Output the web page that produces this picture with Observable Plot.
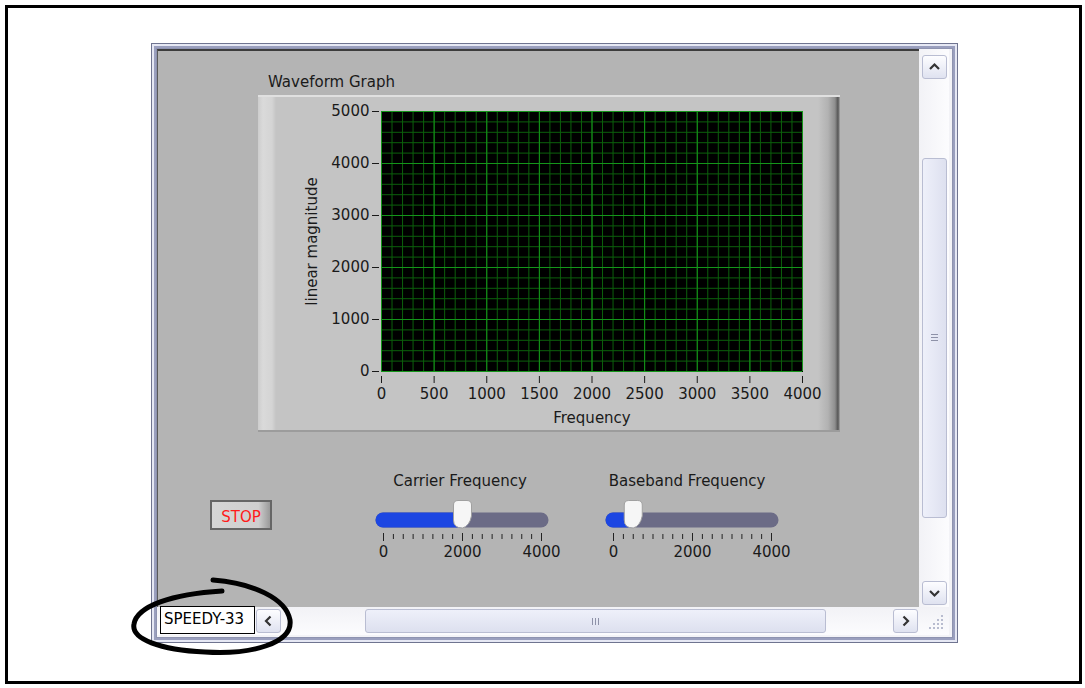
<!DOCTYPE html>
<html><head><meta charset="utf-8">
<script src="https://cdn.jsdelivr.net/npm/d3@7"></script>
<script src="https://cdn.jsdelivr.net/npm/@observablehq/plot@0.6"></script>
<style>
body{margin:0;background:#fff;font-family:"DejaVu Sans",sans-serif;}
#page{position:relative;width:1085px;height:688px;overflow:hidden;background:#fff;}
.abs{position:absolute;box-sizing:border-box;}
.txt{position:absolute;font-size:15px;color:#1a1a1a;white-space:nowrap;line-height:1;}
.btn{position:absolute;box-sizing:border-box;border:1px solid #b9bdd2;border-radius:3px;background:linear-gradient(#fdfdff,#dfe2f0);}
</style></head><body><div id="page">
<div class="abs" style="left:5px;top:5px;width:1077px;height:679px;border:3px solid #000;"></div>
<!-- window frame -->
<div class="abs" style="left:151px;top:43px;width:807px;height:600px;border:1px solid #6f7490;background:#c9cce0;box-shadow:inset 0 0 0 2px #e6e8f4, inset 0 0 0 4px #9a9fbe;"></div>
<div class="abs" style="left:156px;top:48px;width:797px;height:590px;background:#f3f3f7;border:1px solid #8e93b0;"></div>
<!-- panel -->
<div class="abs" id="panel" style="left:157px;top:49px;width:762px;height:558px;background:#b4b4b4;border-top:2px solid #3c3c3c;border-left:1px solid #5a5a5a;"></div>
<!-- vertical scrollbar -->
<div class="abs" style="left:919px;top:49px;width:30px;height:558px;background:linear-gradient(to right,#f2f2f6,#fcfcfe);"></div>
<div class="btn" style="left:922px;top:55px;width:25px;height:24px;"><svg width="23" height="22"><polyline points="7,13 11.5,8.5 16,13" fill="none" stroke="#333" stroke-width="2.2"/></svg></div>
<div class="btn" style="left:922px;top:158px;width:25px;height:360px;background:linear-gradient(to right,#eef0fa,#dde0ef);"><svg width="23" height="358"><g stroke="#8e92a8"><line x1="8" x2="15" y1="175.5" y2="175.5"/><line x1="8" x2="15" y1="178.5" y2="178.5"/><line x1="8" x2="15" y1="181.5" y2="181.5"/></g></svg></div>
<div class="btn" style="left:922px;top:581px;width:25px;height:24px;"><svg width="23" height="22"><polyline points="7,9 11.5,13.5 16,9" fill="none" stroke="#333" stroke-width="2.2"/></svg></div>
<!-- horizontal scrollbar -->
<div class="abs" style="left:157px;top:607px;width:792px;height:28px;background:linear-gradient(#f2f2f6,#fcfcfe);"></div>
<div class="abs" style="left:160px;top:606px;width:95px;height:28px;background:#fff;border:1px solid #000;"></div>
<div class="txt" id="speedy" style="left:164px;top:612px;color:#000;">SPEEDY-33</div>
<div class="btn" style="left:256px;top:609px;width:25px;height:24px;"><svg width="23" height="22"><polyline points="13.5,6.5 9,11 13.5,15.5" fill="none" stroke="#333" stroke-width="2.2"/></svg></div>
<div class="btn" style="left:365px;top:609px;width:461px;height:24px;background:linear-gradient(#eef0fa,#dde0ef);"><svg width="459" height="22"><g stroke="#8e92a8"><line y1="8" y2="15" x1="226.5" x2="226.5"/><line y1="8" y2="15" x1="229.5" x2="229.5"/><line y1="8" y2="15" x1="232.5" x2="232.5"/></g></svg></div>
<div class="btn" style="left:893px;top:609px;width:25px;height:24px;"><svg width="23" height="22"><polyline points="9.5,6.5 14,11 9.5,15.5" fill="none" stroke="#333" stroke-width="2.2"/></svg></div>
<svg class="abs" style="left:925px;top:611px;" width="22" height="22"><g fill="#b8bccf"><rect x="16" y="4" width="2" height="2"/><rect x="12" y="8" width="2" height="2"/><rect x="16" y="8" width="2" height="2"/><rect x="8" y="12" width="2" height="2"/><rect x="12" y="12" width="2" height="2"/><rect x="16" y="12" width="2" height="2"/><rect x="4" y="16" width="2" height="2"/><rect x="8" y="16" width="2" height="2"/><rect x="12" y="16" width="2" height="2"/><rect x="16" y="16" width="2" height="2"/></g></svg>
<!-- graph -->
<div class="txt" id="gtitle" style="left:268px;top:75px;"></div>
<div class="abs" style="left:258px;top:95px;width:582px;height:337px;background:linear-gradient(to right,#cdcdcd 0px,#dadada 5px,#d4d4d4 14px,#c4c4c4 18px,#c4c4c4 calc(100% - 22px),#b2b2b2 calc(100% - 12px),#8e8e8e calc(100% - 5px),#555 calc(100% - 2px),#a8a8a8 100%);border-top:2px solid #e0e0e0;border-bottom:2px solid #9c9c9c;"></div>
<div class="abs" id="graph" style="left:258px;top:95px;"></div>
<!-- stop -->
<div class="abs" style="left:210px;top:500px;width:62px;height:30px;border:2px solid #666;background:linear-gradient(to right,#d6d6d6,#cfcfcf 80%,#9a9a9a);"></div>
<div class="txt" style="left:210px;top:510px;width:62px;text-align:center;color:#ff1a1a;">STOP</div>
<!-- sliders -->
<div class="txt" id="s0name" style="left:360px;top:474px;width:200px;text-align:center;"></div>
<div class="txt" id="s1name" style="left:590px;top:474px;width:194px;text-align:center;"></div>
<div class="abs" id="s0" style="left:360px;top:490px;"></div>
<div class="abs" id="s1" style="left:590px;top:490px;"></div>
<svg class="abs" style="left:0;top:0;pointer-events:none;" width="1085" height="688"><path d="M 213,580 C 252,583 286,598 290,620 C 293,643 252,655 205,652 C 160,650 131,639 134,624 C 137,606 172,594 222,591" fill="none" stroke="#000" stroke-width="5" stroke-linecap="round"/></svg>
</div>
<script>
const graphTitle = "Waveform Graph";
const xLabel = "Frequency";
const yLabel = "linear magnitude";
const xDomain = [0, 4000];
const yDomain = [0, 5000];
const xTicks = [0, 500, 1000, 1500, 2000, 2500, 3000, 3500, 4000];
const yTicks = [0, 1000, 2000, 3000, 4000, 5000];
const xMinor = d3.range(0, 4001, 100);
const yMinor = d3.range(0, 5001, 200);
const sliderNames = ["Carrier Frequency", "Baseband Frequency"];
const sliderValues = [2000, 500];
const sliderDomain = [0, 4000];
const sliderTicks = [0, 2000, 4000];
const sliderMinor = d3.range(0, 4001, 250);

document.getElementById("gtitle").textContent = graphTitle;
const font = {background: "transparent", fontFamily: "DejaVu Sans", fontSize: "15px", color: "#1a1a1a", overflow: "visible"};
const plain = d3.format("d");

const graph = Plot.plot({
  width: 582, height: 337,
  marginLeft: 123, marginRight: 38, marginTop: 16, marginBottom: 61,
  style: font,
  x: {domain: xDomain},
  y: {domain: yDomain},
  marks: [
    Plot.frame({fill: "#000", stroke: "#000"}),
    Plot.ruleX(xMinor, {stroke: "#0c600c", strokeWidth: 1}),
    Plot.ruleY(yMinor, {stroke: "#0c600c", strokeWidth: 1}),
    Plot.ruleX(xTicks, {stroke: "#14951a", strokeWidth: 1}),
    Plot.ruleY(yTicks, {stroke: "#14951a", strokeWidth: 1}),
    Plot.axisX({ticks: xTicks, tickFormat: plain, tickSize: 7, tickPadding: 5, dy: 5, label: xLabel, labelAnchor: "center", labelArrow: "none", labelOffset: 51}),
    Plot.axisY({ticks: yTicks, tickFormat: plain, tickSize: 7, tickPadding: 3, dx: -2, label: yLabel, labelAnchor: "center", labelArrow: "none", labelOffset: 75})
  ]
});
document.getElementById("graph").appendChild(graph);

const thumb = {
  draw(ctx) {
    ctx.moveTo(-9, -15);
    ctx.quadraticCurveTo(-9, -19.5, -4.5, -19.5);
    ctx.lineTo(4.5, -19.5);
    ctx.quadraticCurveTo(9, -19.5, 9, -15);
    ctx.lineTo(9, -4);
    ctx.quadraticCurveTo(7, 6, 0, 8);
    ctx.quadraticCurveTo(-9, 8, -9, 0);
    ctx.closePath();
  }
};

sliderNames.forEach((name, i) => {
  document.getElementById("s" + i + "name").textContent = name;
  const value = sliderValues[i];
  const s = Plot.plot({
    width: 200, height: 80,
    marginLeft: 23, marginRight: 19, marginTop: 29.5, marginBottom: 37,
    style: font,
    x: {domain: sliderDomain},
    y: {domain: [0, 1], axis: null},
    marks: [
      Plot.ruleY([1], {x1: sliderDomain[0], x2: sliderDomain[1], stroke: "#6b6b86", strokeWidth: 15, strokeLinecap: "round"}),
      Plot.ruleY([1], {x1: sliderDomain[0], x2: value, stroke: "#1c46e2", strokeWidth: 15, strokeLinecap: "round"}),
      Plot.dot([value], {x: d => d, y: 1, symbol: thumb, r: 10, fill: "#f6f6f6", stroke: "#a0a0a0", strokeWidth: 1}),
      Plot.axisX({ticks: sliderMinor, tickSize: 5, tickFormat: () => "", label: null, dy: 1, stroke: "#222"}),
      Plot.axisX({ticks: sliderTicks, tickFormat: plain, tickSize: 8, tickPadding: 5, label: null, stroke: "#222"})
    ]
  });
  document.getElementById("s" + i).appendChild(s);
});
</script>
</body></html>
